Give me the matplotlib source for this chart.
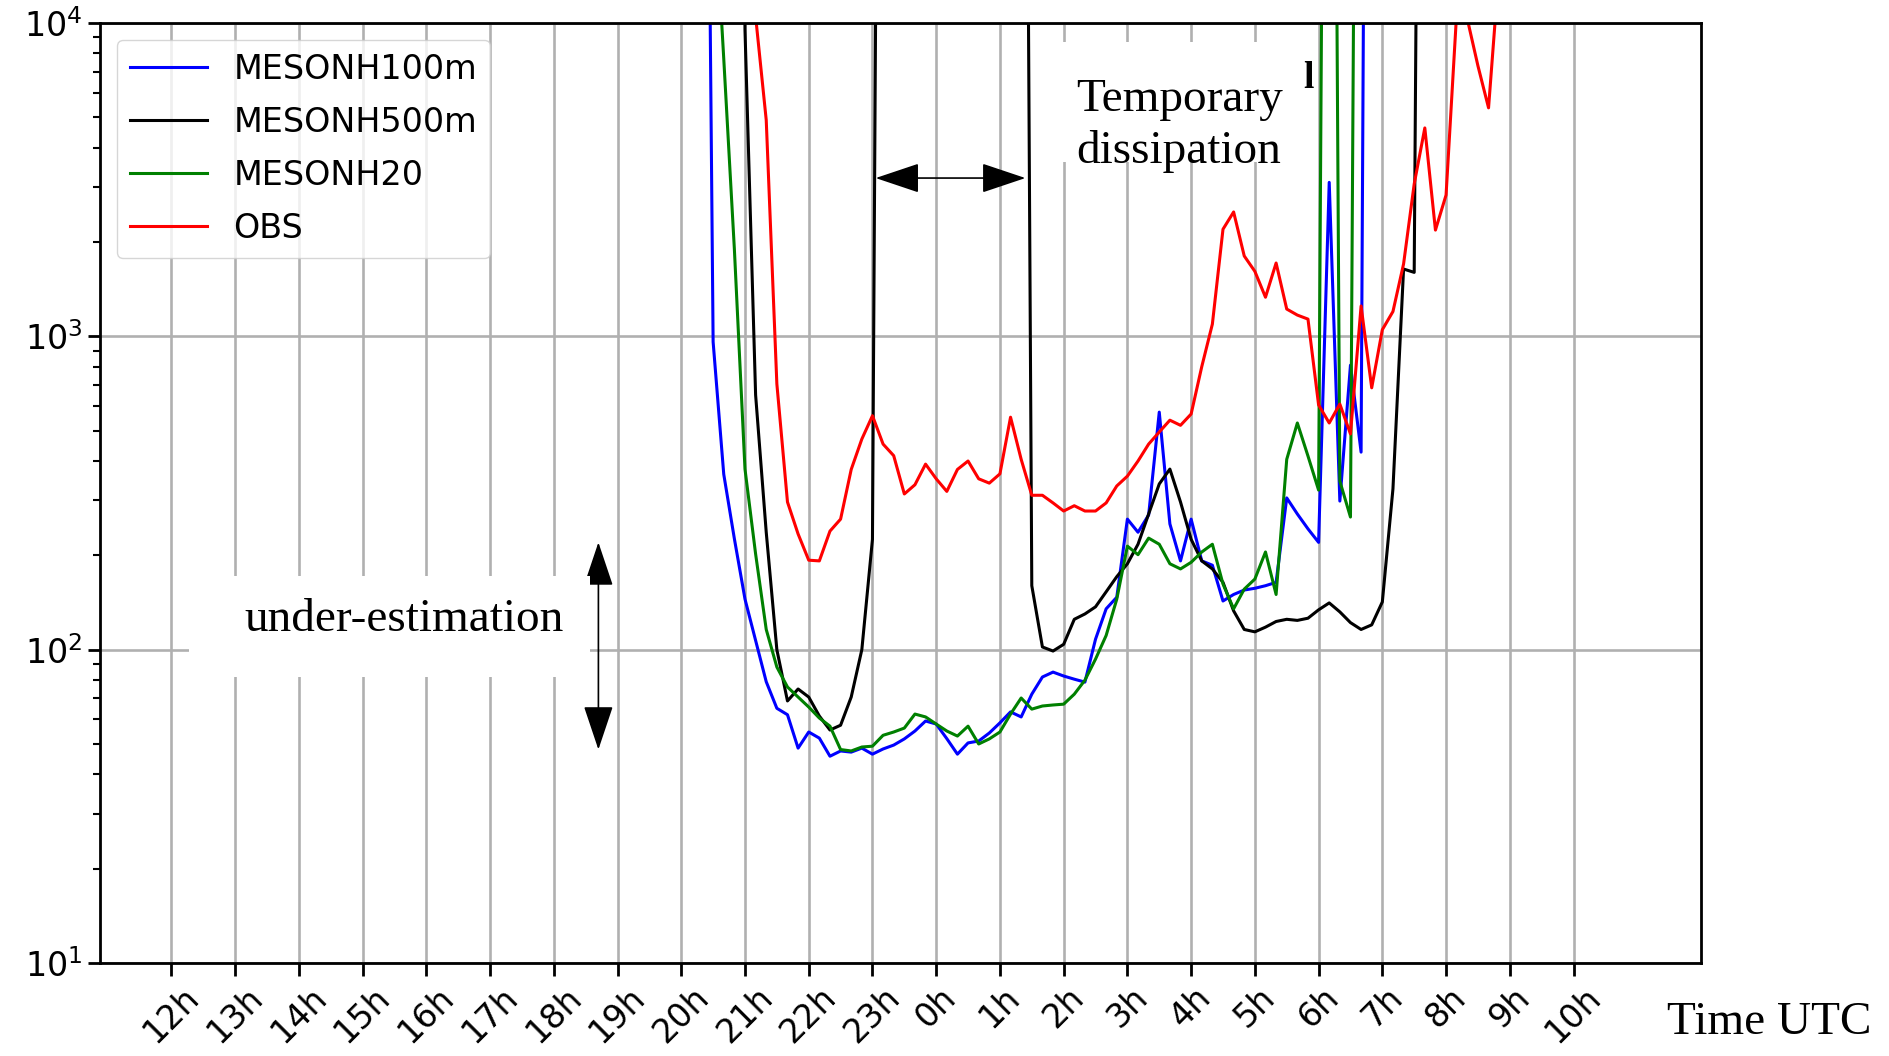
import matplotlib.pyplot as plt
from matplotlib.patches import Rectangle

# times (0h..10h = next morning)
blue_t = ["20:20", "20:30", "20:40", "20:50", "21:00", "21:10", "21:20", "21:30", "21:40", "21:50",
          "22:00", "22:10", "22:20", "22:30", "22:40", "22:50", "23:00", "23:10", "23:20", "23:30",
          "23:40", "23:50", "00:00", "00:10", "00:20", "00:30", "00:40", "00:50", "01:00", "01:10",
          "01:20", "01:30", "01:40", "01:50", "02:00", "02:10", "02:20", "02:30", "02:40", "02:50",
          "03:00", "03:10", "03:20", "03:30", "03:40", "03:50", "04:00", "04:10", "04:20", "04:30",
          "04:40", "04:50", "05:00", "05:10", "05:20", "05:30", "05:40", "05:50", "06:00", "06:10",
          "06:20", "06:30", "06:40", "06:50"]
blue_v = [5e6, 960, 363, 226, 145, 107, 79, 65, 62, 48.5,
          54.6, 52.2, 45.7, 47.5, 47.1, 48.5, 46.4, 48.2, 49.6, 51.9,
          55.0, 59.2, 57.9, 52, 46.4, 50.4, 51.1, 54.2, 58.4, 63.3,
          61.0, 72.1, 81.8, 84.8, 82.4, 80.5, 78.8, 108, 135, 147,
          261, 237, 269, 573, 252, 192, 261, 192, 186, 143,
          150, 155, 157, 160, 164, 305, 271, 243, 220, 3100,
          298, 809, 427, 1e9]

black_t = ["20:50", "21:00", "21:10", "21:20", "21:30", "21:40", "21:50", "22:00", "22:10", "22:20",
           "22:30", "22:40", "22:50", "23:00", "23:10", "01:20", "01:30", "01:40", "01:50", "02:00",
           "02:10", "02:20", "02:30", "02:40", "02:50", "03:00", "03:10", "03:20", "03:30", "03:40",
           "03:50", "04:00", "04:10", "04:20", "04:30", "04:40", "04:50", "05:00", "05:10", "05:20",
           "05:30", "05:40", "05:50", "06:00", "06:10", "06:20", "06:30", "06:40", "06:50", "07:00",
           "07:10", "07:20", "07:30", "07:40"]
black_v = [1e8, 9500, 650, 237, 100, 68.6, 74.9, 70.6, 61.4, 55.4,
           57.4, 70.6, 100, 225, 1e8, 1e8, 160, 102, 99, 104,
           125, 130, 137, 153, 171, 188, 217, 271, 338, 377,
           296, 225, 192, 181, 164, 133, 116, 114, 118, 123,
           125, 124, 126, 134, 141, 132, 122, 116, 120, 142,
           326, 1640, 1600, 1e8]

green_t = ["20:30", "20:40", "20:50", "21:00", "21:10", "21:20", "21:30", "21:40", "21:50", "22:00",
           "22:10", "22:20", "22:30", "22:40", "22:50", "23:00", "23:10", "23:20", "23:30", "23:40",
           "23:50", "00:00", "00:10", "00:20", "00:30", "00:40", "00:50", "01:00", "01:10", "01:20",
           "01:30", "01:40", "01:50", "02:00", "02:10", "02:20", "02:30", "02:40", "02:50", "03:00",
           "03:10", "03:20", "03:30", "03:40", "03:50", "04:00", "04:10", "04:20", "04:30", "04:40",
           "04:50", "05:00", "05:10", "05:20", "05:30", "05:40", "05:50", "06:00", "06:10", "06:20",
           "06:30", "06:40"]
green_v = [3e4, 7700, 1900, 377, 202, 116, 88, 76, 70.6, 65.6,
           60.5, 57, 48, 47.5, 48.9, 49.2, 53.3, 54.6, 56.2, 62.3,
           61.0, 57.9, 55.0, 53.0, 57.0, 50.0, 51.9, 54.6, 62.3, 70.1,
           64.6, 66.1, 66.6, 67.0, 72.1, 79.9, 93.3, 111, 145, 214,
           201, 227, 217, 188, 181, 190, 205, 217, 162, 135,
           156, 168, 205, 150, 405, 529, 415, 323, 1e8, 345,
           265, 1e8]

obs_t = ["21:00", "21:10", "21:20", "21:30", "21:40", "21:50", "22:00", "22:10", "22:20", "22:30",
         "22:40", "22:50", "23:00", "23:10", "23:20", "23:30", "23:40", "23:50", "00:00", "00:10",
         "00:20", "00:30", "00:40", "00:50", "01:00", "01:10", "01:20", "01:30", "01:40", "01:50",
         "02:00", "02:10", "02:20", "02:30", "02:40", "02:50", "03:00", "03:10", "03:20", "03:30",
         "03:40", "03:50", "04:00", "04:10", "04:20", "04:30", "04:40", "04:50", "05:00", "05:10",
         "05:20", "05:30", "05:40", "05:50", "06:00", "06:10", "06:20", "06:30", "06:40", "06:50",
         "07:00", "07:10", "07:20", "07:30", "07:40", "07:50", "08:00", "08:10", "08:20", "08:30",
         "08:40", "08:50"]
obs_v = [5e4, 10500, 4900, 705, 296, 234, 193, 192, 239, 261,
         376, 470, 558, 453, 416, 314, 336, 391, 351, 320,
         376, 400, 351, 340, 364, 552, 405, 311, 311, 294,
         277, 288, 277, 277, 294, 333, 358, 400, 453, 495,
         540, 520, 565, 800, 1094, 2197, 2494, 1805, 1612, 1333,
         1714, 1222, 1169, 1135, 604, 529, 608, 488, 1250, 685,
         1050, 1200, 1702, 3063, 4625, 2183, 2825, 10800, 10300, 7300,
         5360, 15000]

tick_hours = [12, 13, 14, 15, 16, 17, 18, 19, 20, 21, 22, 23, 24,
              25, 26, 27, 28, 29, 30, 31, 32, 33, 34]
tick_labels = ['12h', '13h', '14h', '15h', '16h', '17h', '18h', '19h', '20h', '21h', '22h', '23h',
               '0h', '1h', '2h', '3h', '4h', '5h', '6h', '7h', '8h', '9h', '10h']


def to_hours(labels):
    out = []
    for s in labels:
        h, m = s.split(':')
        v = int(h) + int(m) / 60
        if v < 12:
            v += 24
        out.append(v)
    return out


W, H = 1889, 1056


def fpos(x, y):
    # pixel position (from top-left) -> figure fraction
    return x / W, 1 - y / H


fig = plt.figure(figsize=(W / 100, H / 100), dpi=100)
ax = fig.add_axes([100 / W, 93 / H, 1601 / W, 940 / H])

ax.plot(to_hours(blue_t), blue_v, color='b', lw=2.2, label='MESONH100m')
ax.plot(to_hours(black_t), black_v, color='k', lw=2.2, label='MESONH500m')
ax.plot(to_hours(green_t), green_v, color='g', lw=2.2, label='MESONH20')
ax.plot(to_hours(obs_t), obs_v, color='r', lw=2.2, label='OBS')

ax.set_yscale('log')
ax.set_ylim(10, 1e4)
ax.set_xlim(10.88, 36.0)
ax.set_xticks(tick_hours)
ax.set_xticklabels(tick_labels, rotation=45)
ax.grid(True, color='#b0b0b0', lw=1.9)
ax.set_axisbelow(True)
ax.tick_params(labelsize=24, length=9, width=2)
ax.tick_params(which='minor', length=5, width=1.5)
for sp in ax.spines.values():
    sp.set_linewidth(2)

ax.legend(loc='upper left', fontsize=24, handlelength=2.3, labelspacing=0.6, framealpha=0.8)

# white patches pasted over the chart
for x0, y0, x1, y1 in [(1060, 42, 1306, 162), (189, 576, 590, 677)]:
    fig.add_artist(Rectangle(fpos(x0, y1), (x1 - x0) / W, (y1 - y0) / H,
                             transform=fig.transFigure, facecolor='white', edgecolor='none', zorder=2))

serif = 'Liberation Serif'
# baseline given for the last line
fig.text(*fpos(1076, 163), 'Temporary\ndissipation', family=serif, fontsize=34,
         ha='left', va='baseline', linespacing=1.27, zorder=3)
fig.text(*fpos(244, 631), 'under-estimation', family=serif, fontsize=34,
         ha='left', va='baseline', zorder=3)
fig.text(*fpos(1667, 1034), 'Time UTC', family=serif, fontsize=34,
         ha='left', va='baseline', zorder=3)
fig.text(*fpos(1303, 88), 'l', family=serif, fontsize=27, fontweight='bold',
         ha='left', va='baseline', zorder=3)

arrow = dict(arrowstyle='<|-|>,head_length=1.4,head_width=0.47', mutation_scale=20,
             color='black', lw=1.2, shrinkA=0, shrinkB=0)
ax.annotate('', xy=(23.05, 3200), xytext=(25.4, 3200), arrowprops=arrow, zorder=5)
ax.annotate('', xy=(18.70, 220), xytext=(18.70, 48), arrowprops=arrow, zorder=5)

fig.savefig('out.png', dpi=100)
